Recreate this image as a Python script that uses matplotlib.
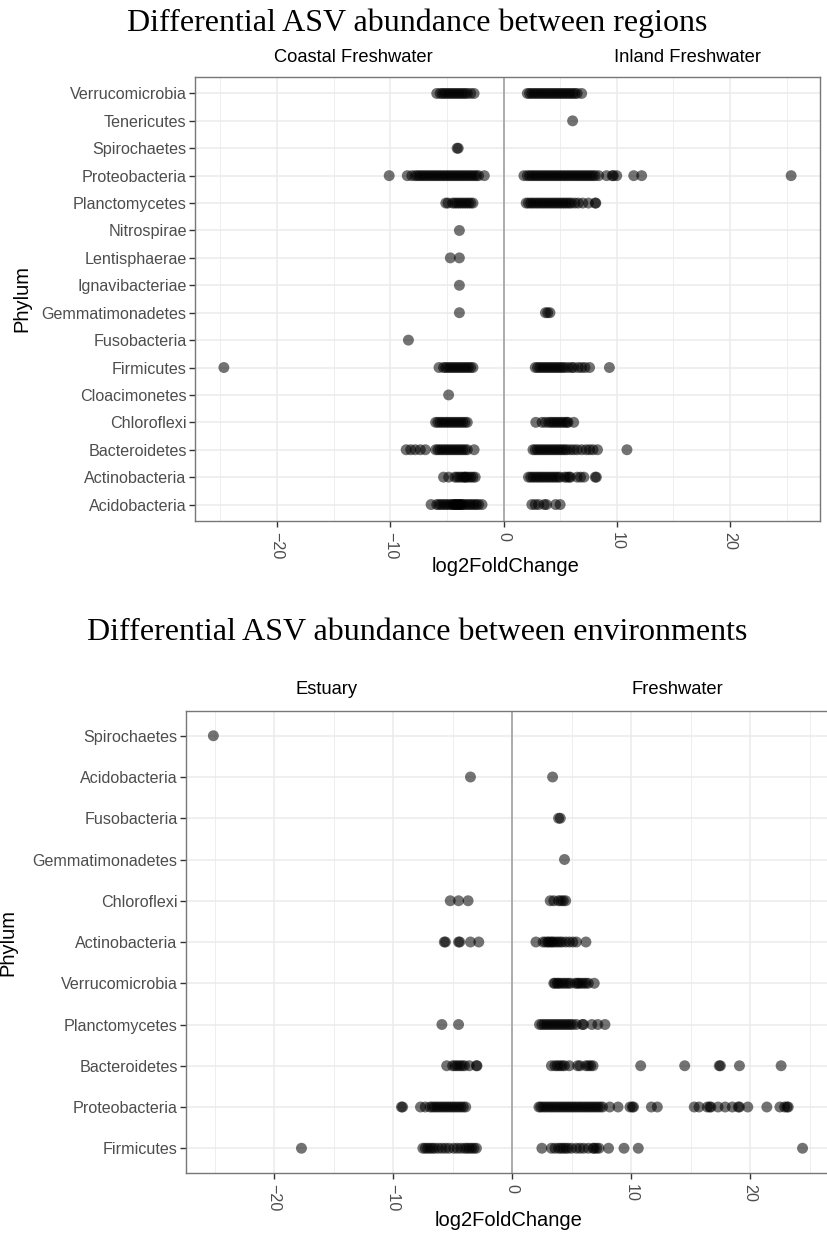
import matplotlib
matplotlib.use("Agg")
import matplotlib.pyplot as plt

plt.rcParams['font.family'] = ['Liberation Sans', 'DejaVu Sans']

# ---- panel 1: regions (phyla listed bottom -> top) ----
reg_acidobacteria = [-6.4, -5.9, -5.7, -5.5, -5.3, -5.1, -4.9, -4.7, -4.5, -4.4, -4.3, -4.2, -4.1, -4.0,
                     -3.9, -3.8, -3.7, -3.6, -3.4, -3.2, -3.0, -2.8, -2.6, -2.4, -2.2, -1.9,
                     2.5, 2.8, 3.1, 3.6, 3.8, 4.6, 5.0]
reg_actinobacteria = [-5.3, -4.85, -4.3, -4.1, -3.9, -3.7, -3.5, -3.4, -3.3, -3.1, -2.9, -2.7, -2.5,
                      2.2, 2.4, 2.6, 2.8, 3.0, 3.2, 3.4, 3.6, 3.8, 4.0, 4.2, 4.4, 4.6, 4.8, 5.0,
                      5.4, 5.6, 5.8, 5.9, 6.5, 6.8, 7.1, 8.1, 8.2]
reg_bacteroidetes = [-8.6, -8.2, -7.8, -7.35, -6.9, -6.0, -5.8, -5.6, -5.4, -5.2, -5.0, -4.8, -4.6,
                     -4.4, -4.2, -4.0, -3.8, -3.6, -3.4, -3.2, -2.6,
                     2.6, 2.8, 3.0, 3.2, 3.4, 3.6, 3.8, 4.0, 4.2, 4.4, 4.6, 4.8, 5.0, 5.2, 5.4,
                     5.6, 5.9, 6.2, 6.5, 6.9, 7.3, 7.6, 7.9, 8.3, 10.9]
reg_chloroflexi = [-6.0, -5.8, -5.6, -5.4, -5.2, -5.0, -4.8, -4.6, -4.4, -4.2, -4.0, -3.8, -3.6,
                   -3.4, -3.2, 2.85, 3.4, 3.7, 4.0, 4.2, 4.4, 4.6, 4.8, 5.0, 5.2, 5.4, 5.6, 5.7, 6.2]
reg_cloacimonetes = [-4.85]
reg_firmicutes = [-24.7, -5.7, -5.3, -5.1, -4.9, -4.7, -4.5, -4.3, -4.1, -3.9, -3.7, -3.5, -3.3,
                  -3.1, -2.9, -2.7, 2.8, 3.0, 3.2, 3.4, 3.6, 3.8, 4.0, 4.2, 4.4, 4.6, 4.8, 5.0,
                  5.2, 5.4, 5.7, 6.0, 6.2, 6.6, 6.9, 7.2, 7.6, 9.35]
reg_fusobacteria = [-8.4]
reg_gemmatimonadetes = [-3.9, 3.7, 3.9, 4.1]
reg_ignavibacteriae = [-3.9]
reg_lentisphaerae = [-4.7, -3.9]
reg_nitrospirae = [-3.9]
reg_planctomycetes = [-5.1, -4.9, -4.5, -4.3, -4.1, -3.9, -3.7, -3.5, -3.3, -3.1, -2.9, -2.7,
                      2.0, 2.2, 2.4, 2.6, 2.8, 3.0, 3.2, 3.4, 3.6, 3.8, 4.0, 4.2, 4.4, 4.6, 4.8,
                      5.0, 5.2, 5.4, 5.6, 5.8, 6.0, 6.3, 6.6, 7.0, 7.5, 8.1, 8.15]
reg_proteobacteria = [-10.1, -8.5, -8.1, -7.8, -7.6, -7.4, -7.2, -7.0, -6.8, -6.6, -6.4, -6.2,
                      -6.0, -5.8, -5.6, -5.4, -5.2, -5.0, -4.8, -4.6, -4.4, -4.2, -4.0, -3.8,
                      -3.6, -3.4, -3.2, -3.0, -2.8, -2.6, -2.4, -2.2, -1.7,
                      1.8, 2.1, 2.3, 2.5, 2.7, 2.9, 3.1, 3.3, 3.5, 3.7, 3.9, 4.1, 4.3, 4.5, 4.7,
                      4.9, 5.1, 5.3, 5.5, 5.7, 5.9, 6.1, 6.3, 6.5, 6.7, 6.9, 7.1, 7.3, 7.5, 7.7,
                      7.9, 8.1, 8.4, 9.1, 9.6, 9.7, 10.0, 11.5, 12.2, 25.4]
reg_spirochaetes = [-4.1, -4.0]
reg_tenericutes = [6.1]
reg_verrucomicrobia = [-5.9, -5.6, -5.4, -5.2, -5.0, -4.8, -4.6, -4.4, -4.2, -4.0, -3.8, -3.6,
                       -3.4, -3.2, -2.9, -2.6, 2.1, 2.3, 2.5, 2.7, 2.9, 3.1, 3.3, 3.5, 3.7, 3.9,
                       4.1, 4.3, 4.5, 4.7, 4.9, 5.1, 5.3, 5.5, 5.7, 5.9, 6.1, 6.3, 6.5, 6.9]

reg_phyla = ['Acidobacteria', 'Actinobacteria', 'Bacteroidetes', 'Chloroflexi', 'Cloacimonetes',
             'Firmicutes', 'Fusobacteria', 'Gemmatimonadetes', 'Ignavibacteriae', 'Lentisphaerae',
             'Nitrospirae', 'Planctomycetes', 'Proteobacteria', 'Spirochaetes', 'Tenericutes',
             'Verrucomicrobia']
reg_values = [reg_acidobacteria, reg_actinobacteria, reg_bacteroidetes, reg_chloroflexi,
              reg_cloacimonetes, reg_firmicutes, reg_fusobacteria, reg_gemmatimonadetes,
              reg_ignavibacteriae, reg_lentisphaerae, reg_nitrospirae, reg_planctomycetes,
              reg_proteobacteria, reg_spirochaetes, reg_tenericutes, reg_verrucomicrobia]

# ---- panel 2: environments (bottom -> top) ----
env_firmicutes = [-17.7, -7.5, -7.3, -7.1, -6.9, -6.7, -6.5, -6.2, -5.9, -5.6, -5.3, -4.9, -4.6,
                  -4.3, -4.0, -3.8, -3.6, -3.4, -3.2, -3.0, 2.5, 3.3, 3.6, 3.9, 4.1, 4.3, 4.5,
                  4.7, 5.0, 5.4, 5.7, 6.0, 6.4, 6.8, 6.9, 7.1, 7.3, 8.1, 9.4, 10.6, 24.4]
env_proteobacteria = [-9.3, -9.2, -7.7, -7.3, -6.9, -6.7, -6.5, -6.3, -6.1, -5.9, -5.7, -5.5,
                      -5.3, -5.1, -4.9, -4.7, -4.5, -4.3, -4.1, -3.9,
                      2.25, 2.4, 2.6, 2.8, 3.0, 3.2, 3.4, 3.6, 3.8, 4.0, 4.2, 4.4, 4.6, 4.8, 5.0,
                      5.2, 5.4, 5.6, 5.8, 6.0, 6.2, 6.4, 6.6, 6.8, 7.0, 7.2, 7.4, 7.6, 8.2, 8.9,
                      9.9, 10.1, 10.2, 11.7, 12.2, 15.3, 15.7, 16.4, 16.6, 16.7, 17.3, 17.9,
                      18.5, 19.0, 19.1, 19.8, 21.4, 22.5, 22.9, 23.1, 23.2]
env_bacteroidetes = [-5.5, -5.0, -4.8, -4.6, -4.4, -4.2, -4.0, -3.6, -3.0, -2.95,
                     3.3, 3.6, 3.8, 4.0, 4.2, 4.4, 4.8, 5.5, 5.7, 6.2, 6.4, 6.6, 6.8,
                     10.8, 14.5, 17.4, 17.5, 19.1, 22.6]
env_planctomycetes = [-5.9, -4.5, 2.3, 2.5, 2.7, 2.9, 3.1, 3.3, 3.5, 3.7, 3.9, 4.1, 4.3, 4.5,
                      4.7, 4.9, 5.1, 5.4, 5.9, 6.0, 6.7, 7.2, 7.8]
env_verrucomicrobia = [3.5, 3.6, 3.8, 3.9, 4.1, 4.3, 4.5, 4.7, 4.9, 5.3, 5.5, 5.6, 5.8, 6.0,
                       6.2, 6.4, 6.9]
env_actinobacteria = [-5.7, -5.6, -4.5, -4.4, -3.5, -2.8, 2.0, 2.6, 2.8, 3.0, 3.1, 3.3, 3.4,
                      3.6, 3.8, 4.0, 4.2, 4.5, 4.8, 5.1, 5.4, 6.2]
env_chloroflexi = [-5.2, -4.5, -3.7, 3.2, 3.5, 3.9, 4.1, 4.3, 4.5]
env_gemmatimonadetes = [4.4]
env_fusobacteria = [3.9, 4.05]
env_acidobacteria = [-3.5, 3.4]
env_spirochaetes = [-25.1]

env_phyla = ['Firmicutes', 'Proteobacteria', 'Bacteroidetes', 'Planctomycetes', 'Verrucomicrobia',
             'Actinobacteria', 'Chloroflexi', 'Gemmatimonadetes', 'Fusobacteria', 'Acidobacteria',
             'Spirochaetes']
env_values = [env_firmicutes, env_proteobacteria, env_bacteroidetes, env_planctomycetes,
              env_verrucomicrobia, env_actinobacteria, env_chloroflexi, env_gemmatimonadetes,
              env_fusobacteria, env_acidobacteria, env_spirochaetes]

W, H = 827, 1239
fig = plt.figure(figsize=(W / 100, H / 100), dpi=100)


def fy(y):
    return 1 - y / H


def panel(rect, phyla, values, xlim):
    ax = fig.add_axes(rect)
    for i, vals in enumerate(values):
        ax.scatter(vals, [i + 1] * len(vals), s=62, color='black', alpha=0.55,
                   edgecolors='none', zorder=3)
    ax.axvline(0, color='#a0a0a0', lw=1.2, zorder=2)
    ax.set_xlim(*xlim)
    ax.set_ylim(0.4, len(phyla) + 0.6)
    ax.set_yticks(range(1, len(phyla) + 1))
    ax.set_yticklabels(phyla)
    ax.set_xticks([-20, -10, 0, 10, 20])
    ax.set_xticks([-25, -15, -5, 5, 15, 25], minor=True)
    ax.grid(which='major', color='#EBEBEB', lw=1.1)
    ax.grid(which='minor', axis='x', color='#EBEBEB', lw=0.6)
    ax.set_axisbelow(True)
    ax.tick_params(axis='x', which='minor', length=0)
    ax.tick_params(which='major', length=4, width=1, color='#333333',
                   labelcolor='#4D4D4D', labelsize=11.6, pad=2)
    ax.tick_params(axis='x', labelrotation=-90, pad=4)
    for sp in ax.spines.values():
        sp.set_color('#777777')
        sp.set_linewidth(1.0)
    return ax


# top panel
ax1 = panel([195 / W, fy(521), (820 - 195) / W, 444 / H], reg_phyla, reg_values, (-27.25, 27.95))
fig.text(417 / W, fy(31), 'Differential ASV abundance between regions', ha='center',
         va='baseline', fontsize=23, family='Liberation Serif')
fig.text(353 / W, fy(57), 'Coastal Freshwater', ha='center', va='center', fontsize=13.2)
fig.text(688 / W, fy(57), 'Inland Freshwater', ha='center', va='center', fontsize=13.2)
fig.text(506 / W, fy(567), 'log2FoldChange', ha='center', va='center', fontsize=14.5)
fig.text(22 / W, fy(299), 'Phylum', ha='center', va='center', rotation=90, fontsize=14.5)

# bottom panel
ax2 = panel([186 / W, fy(1173), 646.3 / W, 462 / H], env_phyla, env_values, (-27.4, 26.9))
fig.text(417 / W, fy(640), 'Differential ASV abundance between environments', ha='center',
         va='baseline', fontsize=23, family='Liberation Serif')
fig.text(327 / W, fy(690), 'Estuary', ha='center', va='center', fontsize=13.2)
fig.text(677 / W, fy(690), 'Freshwater', ha='center', va='center', fontsize=13.2)
fig.text(509 / W, fy(1220), 'log2FoldChange', ha='center', va='center', fontsize=14.5)
fig.text(8 / W, fy(942), 'Phylum', ha='center', va='center', rotation=90, fontsize=14.5)

fig.savefig('out.png', dpi=100)
